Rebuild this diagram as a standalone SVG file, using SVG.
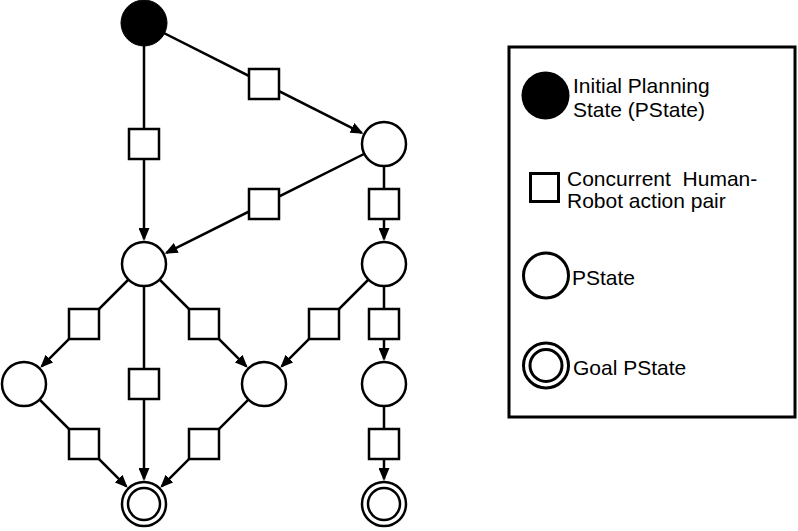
<svg xmlns="http://www.w3.org/2000/svg" width="798" height="531" viewBox="0 0 798 531">
<style>
.st{fill:#fff;stroke:#000;stroke-width:2.5}
.init{fill:#000;stroke:#000;stroke-width:1}
.act{fill:#fff;stroke:#000;stroke-width:2.5}
.edge{stroke:#000;stroke-width:2.5;fill:none;marker-end:url(#ah)}
.lg{fill:#fff;stroke:#000;stroke-width:3}
.txt{font-family:"Liberation Sans",Arial,sans-serif;font-size:21px;fill:#000}
</style>
<defs>
<marker id="ah" markerUnits="userSpaceOnUse" markerWidth="13" markerHeight="11" refX="11" refY="5.5" orient="auto">
<path d="M0,0 L13,5.5 L0,11 z" fill="#000"/>
</marker>
</defs>
<rect width="798" height="531" fill="#fff"/>
<g id="connectors">
<line class="edge" x1="144" y1="23" x2="361.7" y2="132.8"/>
<line class="edge" x1="144" y1="23" x2="144" y2="239"/>
<line class="edge" x1="384" y1="144" x2="166.4" y2="252.8"/>
<line class="edge" x1="384" y1="144" x2="384" y2="239"/>
<line class="edge" x1="144" y1="264" x2="41.7" y2="366.3"/>
<line class="edge" x1="144" y1="264" x2="144" y2="479"/>
<line class="edge" x1="144" y1="264" x2="246.3" y2="366.3"/>
<line class="edge" x1="384" y1="264" x2="281.7" y2="366.3"/>
<line class="edge" x1="384" y1="264" x2="384" y2="359"/>
<line class="edge" x1="24" y1="384" x2="126.3" y2="486.3"/>
<line class="edge" x1="264" y1="384" x2="161.7" y2="486.3"/>
<line class="edge" x1="384" y1="384" x2="384" y2="479"/>
</g>
<g id="init"><circle class="init" cx="144" cy="23" r="23"/></g>
<g id="stateA"><circle class="st" cx="384" cy="144" r="22"/></g>
<g id="stateB"><circle class="st" cx="144" cy="264" r="22"/></g>
<g id="stateC"><circle class="st" cx="384" cy="264" r="22"/></g>
<g id="stateD"><circle class="st" cx="24" cy="384" r="22"/></g>
<g id="stateE"><circle class="st" cx="264" cy="384" r="22"/></g>
<g id="stateF"><circle class="st" cx="384" cy="384" r="22"/></g>
<g id="goal1"><circle class="st" cx="144" cy="504" r="22"/><circle class="st" cx="144" cy="504" r="16"/></g>
<g id="goal2"><circle class="st" cx="384" cy="504" r="22"/><circle class="st" cx="384" cy="504" r="16"/></g>
<g id="act1"><rect class="act" x="249" y="69" width="30" height="30"/></g>
<g id="act2"><rect class="act" x="129" y="129" width="30" height="30"/></g>
<g id="act3"><rect class="act" x="249" y="189" width="30" height="30"/></g>
<g id="act4"><rect class="act" x="369" y="189" width="30" height="30"/></g>
<g id="act5"><rect class="act" x="69" y="309" width="30" height="30"/></g>
<g id="act6"><rect class="act" x="129" y="369" width="30" height="30"/></g>
<g id="act7"><rect class="act" x="189" y="309" width="30" height="30"/></g>
<g id="act8"><rect class="act" x="309" y="309" width="30" height="30"/></g>
<g id="act9"><rect class="act" x="369" y="309" width="30" height="30"/></g>
<g id="act10"><rect class="act" x="69" y="429" width="30" height="30"/></g>
<g id="act11"><rect class="act" x="189" y="429" width="30" height="30"/></g>
<g id="act12"><rect class="act" x="369" y="429" width="30" height="30"/></g>
<g id="legend">
<rect x="509" y="47" width="286" height="370" fill="#fff" stroke="#000" stroke-width="3"/>
<circle cx="545.5" cy="95.5" r="24" fill="#000"/>
<text class="txt" x="573" y="93">Initial Planning</text>
<text class="txt" x="573" y="117">State (PState)</text>
<rect class="lg" x="530.5" y="173.5" width="28" height="28"/>
<text class="txt" x="567" y="186" xml:space="preserve">Concurrent  Human-</text>
<text class="txt" x="567" y="208">Robot action pair</text>
<circle class="lg" cx="546" cy="275.5" r="22.5"/>
<text class="txt" x="572" y="285">PState</text>
<circle class="lg" cx="546" cy="365.5" r="22.5"/>
<circle class="lg" cx="546" cy="365.5" r="16"/>
<text class="txt" x="573" y="375">Goal PState</text>
</g>
</svg>
